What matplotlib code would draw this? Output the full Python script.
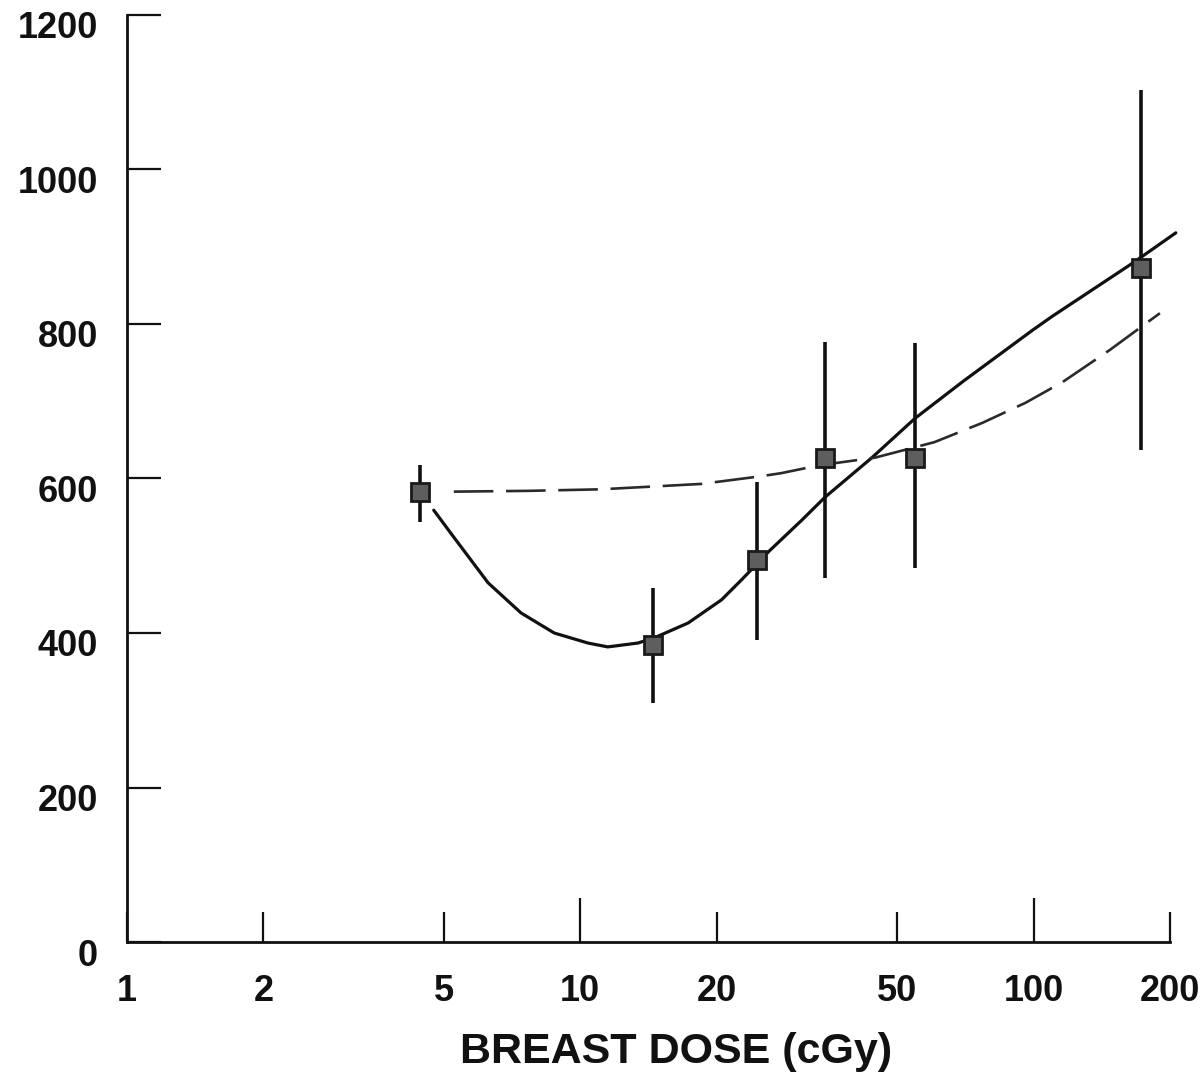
import matplotlib
matplotlib.use('Agg')
import matplotlib.pyplot as plt
import matplotlib.transforms as mtransforms
from matplotlib.ticker import FixedLocator, NullLocator, FixedFormatter

# ---- data ----
dose = [4.42, 14.5, 24.5, 34.7, 54.8, 172.6]
value = [583, 384, 494, 627, 627, 872]
err_low = [544, 309, 391, 471, 484, 637]
err_high = [617, 458, 595, 777, 775, 1103]

solid_x = [4.75, 5.26, 6.26, 7.40, 8.76, 10.4, 11.5, 13.4, 14.6, 17.3, 20.5,
           22.7, 24.3, 26.1, 30.8, 34.7, 44.0, 54.8, 70.0, 99.5, 110, 165.6, 206]
solid_y = [559, 524, 465, 426, 400, 387, 382, 387, 394, 413, 443,
           469, 487, 506, 546, 576, 627, 678, 726, 792, 810, 879, 918]

dash_x = [5.26, 7.67, 11.1, 18.5, 25.1, 27.8, 33.6, 44.7, 60.4, 77.1, 96.0, 116, 147, 190]
dash_y = [583, 584, 586, 593, 603, 607, 617, 627, 647, 672, 698, 725, 766, 814]

xticks = [1, 2, 5, 10, 20, 50, 100, 200]
xticklabels = ['1', '2', '5', '10', '20', '50', '100', '200']
yticks = [0, 200, 400, 600, 800, 1000, 1200]
yticklabels = ['0', '200', '400', '600', '800', '1000', '1200']
xlabel = 'BREAST DOSE (cGy)'

# ---- figure ----
fig = plt.figure(figsize=(12.02, 10.72), dpi=100)
ax = fig.add_axes([127 / 1202, 1 - 942 / 1072, (1170 - 127) / 1202, (942 - 15) / 1072])
ink = '#111111'

ax.set_xscale('log')
ax.set_xlim(1, 200)
ax.set_ylim(0, 1200)

ax.plot(solid_x, solid_y, color=ink, lw=2.3, solid_capstyle='round', solid_joinstyle='round',
        clip_on=False, zorder=3)
ax.plot(dash_x, dash_y, color='#2a2a2a', lw=1.9, dashes=(15, 4.8), clip_on=False, zorder=3)

yerr = [[v - lo for v, lo in zip(value, err_low)], [hi - v for v, hi in zip(value, err_high)]]
ax.errorbar(dose, value, yerr=yerr, fmt='none', ecolor=ink, elinewidth=2.6, capsize=0, zorder=4)
ax.plot(dose, value, ls='none', marker='s', markersize=13, markerfacecolor='#5e5e5e',
        markeredgecolor='#1a1a1a', markeredgewidth=2.0, zorder=5)

for s in ['top', 'right']:
    ax.spines[s].set_visible(False)
for s in ['left', 'bottom']:
    ax.spines[s].set_linewidth(2.0)
    ax.spines[s].set_color(ink)

ax.xaxis.set_major_locator(FixedLocator(xticks))
ax.xaxis.set_major_formatter(FixedFormatter(xticklabels))
ax.xaxis.set_minor_locator(NullLocator())
ax.set_yticks(yticks)
ax.set_yticklabels(yticklabels)

ax.tick_params(axis='x', direction='in', length=21.5, width=1.6, color=ink, pad=23)
ax.tick_params(axis='y', direction='in', length=24.5, width=1.6, color=ink, pad=21)
for lab in ax.get_xticklabels() + ax.get_yticklabels():
    lab.set_fontfamily('Liberation Sans')
    lab.set_fontweight('bold')
    lab.set_fontsize(26)
    lab.set_color(ink)

for t, v in zip(ax.xaxis.get_major_ticks(), xticks):
    if v in (10, 100):
        t.tick1line.set_markersize(32)

offset = mtransforms.ScaledTranslation(0, -10 / 100, fig.dpi_scale_trans)
for lab in ax.get_yticklabels():
    lab.set_transform(lab.get_transform() + offset)

ax.set_xlabel(xlabel, fontfamily='Liberation Sans', fontweight='bold', fontsize=31,
              color=ink, va='baseline', ha='center')
ax.xaxis.set_label_coords(676 / 1202, (1072 - 1063) / 1072, transform=fig.transFigure)

fig.savefig('out.png', dpi=100)
